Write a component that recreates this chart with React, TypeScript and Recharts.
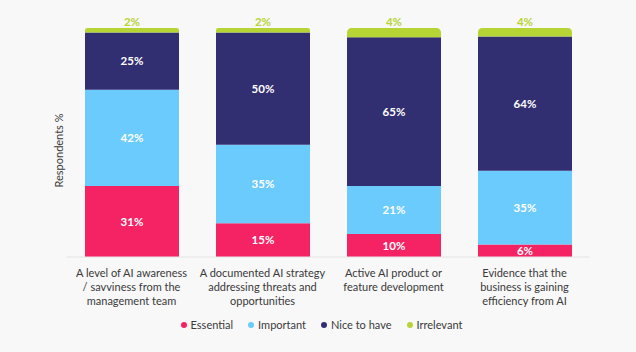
import { Bar, BarChart, LabelList, Legend, XAxis, YAxis } from "recharts";

const categories = [
  "A level of AI awareness\n/ savviness from the\nmanagement team",
  "A documented AI strategy\naddressing threats and\nopportunities",
  "Active AI product or\nfeature development",
  "Evidence that the\nbusiness is gaining\nefficiency from AI",
];
const essential = [31, 15, 10, 6];
const important = [42, 35, 21, 35];
const niceToHave = [25, 50, 65, 64];
const irrelevant = [2, 2, 4, 4];

const seriesMeta = [
  { key: "essential", name: "Essential", color: "#f62364" },
  { key: "important", name: "Important", color: "#6acbfc" },
  { key: "niceToHave", name: "Nice to have", color: "#322e72" },
  { key: "irrelevant", name: "Irrelevant", color: "#b6d433" },
];

const data = categories.map((name, i) => ({
  name,
  essential: essential[i],
  important: important[i],
  niceToHave: niceToHave[i],
  irrelevant: irrelevant[i],
}));

const FONT = "Lato, 'Open Sans', sans-serif";

function CategoryTick({ x, y, payload }: any) {
  const lines = String(payload.value).split("\n");
  return (
    <text x={x} y={y} textAnchor="middle" fill="#3a3a3a" fontSize={11} fontFamily={FONT}>
      {lines.map((line, i) => (
        <tspan key={i} x={x} dy={i === 0 ? 12 : 14}>
          {line}
        </tspan>
      ))}
    </text>
  );
}

function LegendContent() {
  return (
    <div style={{ display: "flex", justifyContent: "center", fontFamily: FONT, fontSize: 11, color: "#3a3a3a", paddingLeft: 22 }}>
      {seriesMeta.map((s) => (
        <span key={s.key} style={{ display: "inline-flex", alignItems: "center", marginRight: 15 }}>
          <span style={{ width: 6, height: 6, borderRadius: 3, background: s.color, marginRight: 4, display: "inline-block" }} />
          {s.name}
        </span>
      ))}
    </div>
  );
}

const pct = (v: any) => `${v}%`;

export default function App() {
  return (
    <div style={{ position: "absolute", left: 0, top: 0, width: 636, height: 352, background: "#f8f8f8" }}>
      <BarChart
        width={636}
        height={352}
        data={data}
        stackOffset="expand"
        margin={{ top: 28, right: 46, left: 0, bottom: 0 }}
      >
        <XAxis
          dataKey="name"
          interval={0}
          height={82}
          tickLine={false}
          axisLine={{ stroke: "#e4e4e6" }}
          tick={<CategoryTick />}
        />
        <YAxis
          width={66}
          tick={false}
          axisLine={false}
          tickLine={false}
          label={{
            value: "Respondents %",
            angle: -90,
            position: "center",
            dx: 26,
            dy: 8,
            fill: "#3a3a3a",
            fontSize: 11,
            fontFamily: FONT,
          }}
        />
        <Legend
          verticalAlign="bottom"
          wrapperStyle={{ bottom: 21, left: 0, width: 636 }}
          content={<LegendContent />}
        />
        <Bar dataKey="essential" stackId="a" fill="#f62364" barSize={94} isAnimationActive={false}>
          <LabelList dataKey="essential" position="center" formatter={pct} fill="#ffffff" fontSize={11.5} fontWeight={700} fontFamily={FONT} />
        </Bar>
        <Bar dataKey="important" stackId="a" fill="#6acbfc" barSize={94} isAnimationActive={false}>
          <LabelList dataKey="important" position="center" formatter={pct} fill="#ffffff" fontSize={11.5} fontWeight={700} fontFamily={FONT} />
        </Bar>
        <Bar dataKey="niceToHave" stackId="a" fill="#322e72" barSize={94} isAnimationActive={false}>
          <LabelList dataKey="niceToHave" position="center" formatter={pct} fill="#ffffff" fontSize={11.5} fontWeight={700} fontFamily={FONT} />
        </Bar>
        <Bar dataKey="irrelevant" stackId="a" fill="#b6d433" barSize={94} radius={[8, 8, 0, 0]} isAnimationActive={false}>
          <LabelList dataKey="irrelevant" position="top" offset={2} formatter={pct} fill="#b6d433" fontSize={11.5} fontWeight={700} fontFamily={FONT} />
        </Bar>
      </BarChart>
    </div>
  );
}
